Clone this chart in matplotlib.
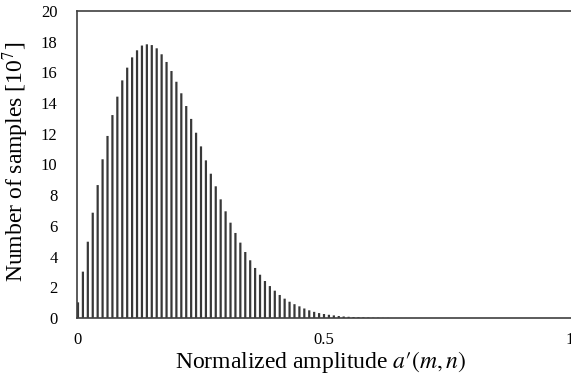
import matplotlib
matplotlib.use("Agg")
import matplotlib.pyplot as plt
import numpy as np

plt.rcParams['font.family'] = ['Liberation Serif', 'DejaVu Serif']
plt.rcParams['mathtext.fontset'] = 'stix'

bin_width = 0.01
counts = [1.02, 3.02, 4.97, 6.86, 8.66, 10.34, 11.86, 13.22, 14.42, 15.48,
          16.31, 16.98, 17.44, 17.75, 17.83, 17.78, 17.57, 17.18, 16.68, 16.09,
          15.39, 14.64, 13.81, 12.97, 12.07, 11.18, 10.27, 9.40, 8.58, 7.73,
          6.95, 6.21, 5.54, 4.91, 4.30, 3.76, 3.26, 2.82, 2.41, 2.08,
          1.78, 1.50, 1.26, 1.06, 0.90, 0.76, 0.62, 0.50, 0.40, 0.32,
          0.26, 0.21, 0.17, 0.13, 0.10, 0.08, 0.06, 0.05, 0.04, 0.03,
          0.02, 0.02, 0.01, 0.01] + [0.0] * 36
bin_centers = [i * bin_width for i in range(len(counts))]
xticks = [0, 0.5, 1]
xtick_labels = ["0", "0.5", "1"]
yticks = list(range(0, 21, 2))

fig = plt.figure(figsize=(5.71, 3.81), dpi=100)
ax = fig.add_axes([77 / 571, 1 - 318 / 381, 1 - 77 / 571, (318 - 11) / 381])

ax.bar(bin_centers, counts, width=bin_width * 0.45, color='#383838',
       linewidth=0, snap=False)

ax.set_xlim(-0.002, 1.002)
ax.set_ylim(0, 20)
ax.set_xticks(xticks)
ax.set_xticklabels(xtick_labels)
ax.set_yticks(yticks)
ax.tick_params(axis='both', length=0, labelsize=12)
ax.tick_params(axis='y', pad=14)
ax.tick_params(axis='x', pad=10)

for s in ['left', 'bottom', 'top']:
    ax.spines[s].set_color('#404040')
    ax.spines[s].set_linewidth(1.2)
ax.spines['right'].set_visible(False)

xl = ax.set_xlabel(r"Normalized amplitude $a\prime(m,n)$", fontsize=17)
yl = ax.set_ylabel(r"Number of samples [10$^7$]", fontsize=17)
xl.set_va('center')
yl.set_va('center')
ax.xaxis.set_label_coords((321 - 77) / (571 - 77), -(362 - 318) / 307)
ax.yaxis.set_label_coords(-(77 - 16) / (571 - 77), (318 - 162) / 307)

fig.savefig("out.png", dpi=100)
